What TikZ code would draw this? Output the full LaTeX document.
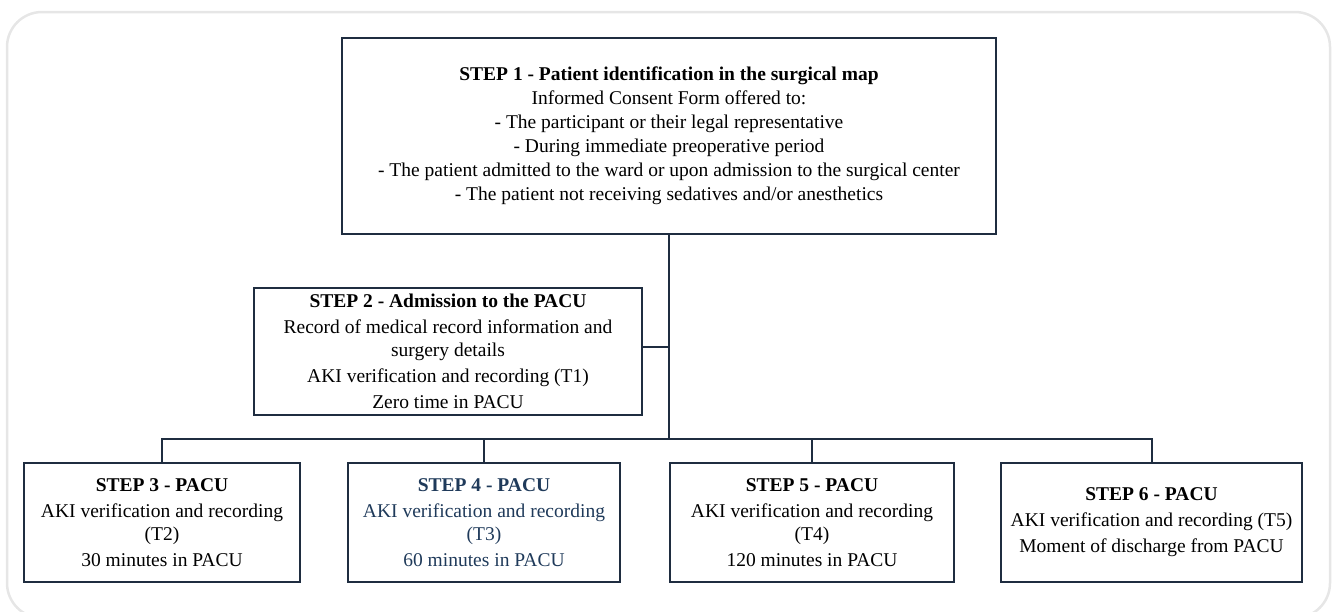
\documentclass[tikz,border=0pt]{standalone}
\usepackage{fontspec}
\setmainfont{Liberation Serif}
\definecolor{navy}{HTML}{1F2D40}
\definecolor{stepblue}{HTML}{1F3A5A}
\definecolor{framegray}{HTML}{E6E6E6}
\begin{document}
\begin{tikzpicture}[x=1pt,y=-1pt,
  stepbox/.style={draw=navy,line width=1.6pt,align=center,inner sep=0pt,
    font=\fontsize{19.5}{23}\selectfont},
  link/.style={draw=navy,line width=2pt}]
\useasboundingbox (0,0) rectangle (1336,611);
\draw[framegray,line width=2.5pt,rounded corners=35pt] (7,12) rectangle (1330,618);

\node[stepbox,minimum width=654pt,minimum height=196pt] (s1) at (669,136)
{\textbf{STEP 1 - Patient identification in the surgical map}\\[1pt]
Informed Consent Form offered to:\\[1pt]
- The participant or their legal representative\\[1pt]
- During immediate preoperative period\\[1pt]
- The patient admitted to the ward or upon admission to the surgical center\\[1pt]
- The patient not receiving sedatives and/or anesthetics};

\node[stepbox,minimum width=388pt,minimum height=127pt] (s2) at (448,351.5)
{\textbf{STEP 2 - Admission to the PACU}\\[3pt]
Record of medical record information and\\
surgery details\\[3pt]
AKI verification and recording (T1)\\[3pt]
Zero time in PACU};

\node[stepbox,minimum width=276pt,minimum height=119pt] (s3) at (162,522.5)
{\textbf{STEP 3 - PACU}\\[3pt]
AKI verification and recording\\
(T2)\\[3pt]
30 minutes in PACU};

\node[stepbox,minimum width=272pt,minimum height=119pt,text=stepblue] (s4) at (484,522.5)
{\textbf{STEP 4 - PACU}\\[3pt]
AKI verification and recording\\
(T3)\\[3pt]
60 minutes in PACU};

\node[stepbox,minimum width=284pt,minimum height=119pt] (s5) at (812,522.5)
{\textbf{STEP 5 - PACU}\\[3pt]
AKI verification and recording\\
(T4)\\[3pt]
120 minutes in PACU};

\node[stepbox,minimum width=301pt,minimum height=119pt] (s6) at (1151.5,522.5)
{\textbf{STEP 6 - PACU}\\[3pt]
AKI verification and recording (T5)\\[3pt]
Moment of discharge from PACU};

\coordinate (hub) at (669,439);
\coordinate (j2) at (669,347);
\draw[link] (s1.south) -- (hub);
\draw[link] (s2.east |- j2) -- (j2);
\draw[link] (s3.north) |- (hub);
\draw[link] (s4.north) |- (hub);
\draw[link] (s5.north) |- (hub);
\draw[link] (s6.north) |- (hub);
\end{tikzpicture}
\end{document}
